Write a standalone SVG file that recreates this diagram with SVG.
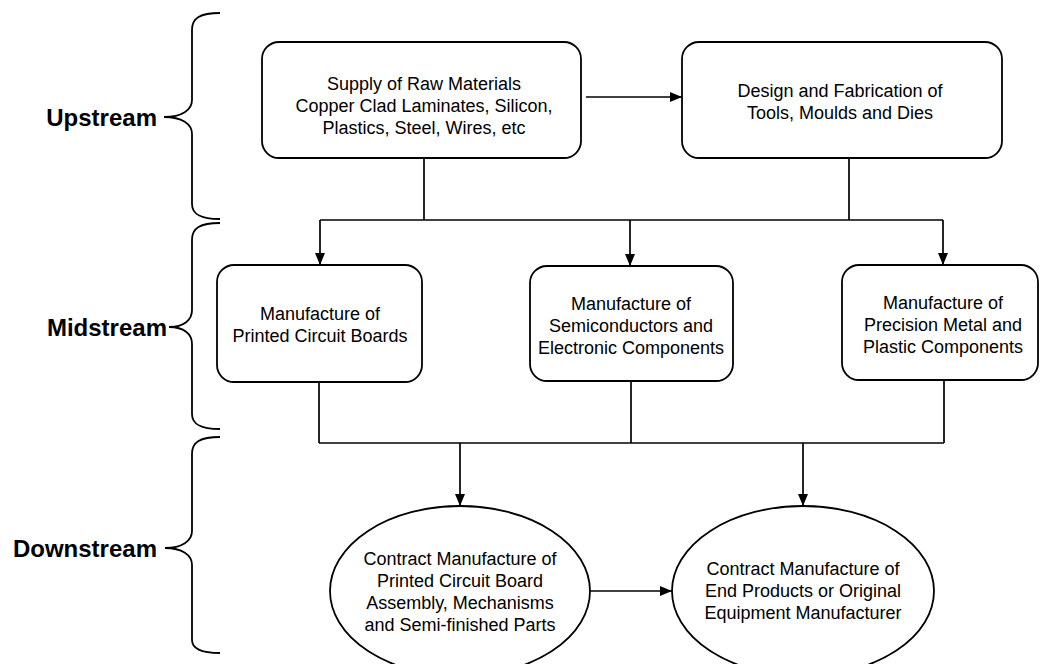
<svg xmlns="http://www.w3.org/2000/svg" width="1040" height="664" viewBox="0 0 1040 664">
<defs>
<marker id="ah" viewBox="0 0 12 10" refX="12" refY="5" markerWidth="12" markerHeight="10" markerUnits="userSpaceOnUse" orient="auto">
<path d="M0,0 L12,5 L0,10 Z" fill="#000"/>
</marker>
<style>
.box{fill:#fff;stroke:#000;stroke-width:1.8}
.t{font-family:"Liberation Sans",Arial,sans-serif;font-size:18px;fill:#000;text-anchor:middle}
.lab{font-family:"Liberation Sans",Arial,sans-serif;font-size:24px;font-weight:bold;fill:#000;text-anchor:end}
.br{fill:none;stroke:#000;stroke-width:1.8}
.c{fill:none;stroke:#000;stroke-width:1.7}
.a{fill:none;stroke:#000;stroke-width:1.7;marker-end:url(#ah)}
</style>
</defs>
<rect width="1040" height="664" fill="#fff"/>

<g id="brackets">
<path class="br" d="M220,13 C200,13 192,18 192,30 L192,100 C192,110 182,117 164,117 C182,117 192,124 192,134 L192,204 C192,214 200,219 220,219"/>
<path class="br" d="M220,223 C200,223 192,228 192,240 L192,310 C192,320 184,327 169,327 C184,327 192,334 192,344 L192,414 C192,424 200,429 220,429"/>
<path class="br" d="M220,437 C200,437 192,442 192,454 L192,531 C192,541 182,548 165,548 C182,548 192,555 192,565 L192,640 C192,648 200,653 220,653"/>
</g>

<g id="labels">
<text class="lab" x="157" y="126">Upstream</text>
<text class="lab" x="167" y="336">Midstream</text>
<text class="lab" x="157" y="557">Downstream</text>
</g>

<g id="connectors">
<line class="a" x1="586" y1="97" x2="682" y2="97"/>
<line class="c" x1="424" y1="158" x2="424" y2="220"/>
<line class="c" x1="849" y1="158" x2="849" y2="220"/>
<line class="c" x1="320" y1="220" x2="943" y2="220"/>
<line class="a" x1="320" y1="220" x2="320" y2="265"/>
<line class="a" x1="630" y1="220" x2="630" y2="266"/>
<line class="a" x1="943" y1="220" x2="943" y2="265"/>
<line class="c" x1="319" y1="382" x2="319" y2="443"/>
<line class="c" x1="631" y1="381" x2="631" y2="443"/>
<line class="c" x1="944" y1="380" x2="944" y2="443"/>
<line class="c" x1="319" y1="443" x2="944" y2="443"/>
<line class="a" x1="460" y1="443" x2="460" y2="506"/>
<line class="a" x1="803" y1="443" x2="803" y2="506"/>
<line class="a" x1="590" y1="591" x2="672" y2="591"/>
</g>

<g id="supply">
<rect class="box" x="262" y="42" width="319" height="116" rx="17"/>
<text class="t" x="424" y="89.5">Supply of Raw Materials</text>
<text class="t" x="424" y="111.5">Copper Clad Laminates, Silicon,</text>
<text class="t" x="424" y="133.5">Plastics, Steel, Wires, etc</text>
</g>

<g id="design">
<rect class="box" x="682" y="42" width="320" height="116" rx="17"/>
<text class="t" x="840" y="96.5">Design and Fabrication of</text>
<text class="t" x="840" y="118.5">Tools, Moulds and Dies</text>
</g>

<g id="pcb">
<rect class="box" x="217" y="265" width="205" height="117" rx="17"/>
<text class="t" x="320" y="319.5">Manufacture of</text>
<text class="t" x="320" y="342">Printed Circuit Boards</text>
</g>

<g id="semi">
<rect class="box" x="530" y="266" width="203" height="115" rx="17"/>
<text class="t" x="631" y="309.5">Manufacture of</text>
<text class="t" x="631" y="331.5">Semiconductors and</text>
<text class="t" x="631" y="353.5">Electronic Components</text>
</g>

<g id="precision">
<rect class="box" x="842" y="265" width="196" height="115" rx="17"/>
<text class="t" x="943" y="308.5">Manufacture of</text>
<text class="t" x="943" y="330.5">Precision Metal and</text>
<text class="t" x="943" y="352.5">Plastic Components</text>
</g>

<g id="pcba">
<ellipse class="box" cx="460" cy="591" rx="130" ry="85"/>
<text class="t" x="460" y="564.5">Contract Manufacture of</text>
<text class="t" x="460" y="586.5">Printed Circuit Board</text>
<text class="t" x="460" y="608.5">Assembly, Mechanisms</text>
<text class="t" x="460" y="630.5">and Semi-finished Parts</text>
</g>

<g id="oem">
<ellipse class="box" cx="803" cy="591" rx="131" ry="85"/>
<text class="t" x="803" y="574.5">Contract Manufacture of</text>
<text class="t" x="803" y="596.5">End Products or Original</text>
<text class="t" x="803" y="618.5">Equipment Manufacturer</text>
</g>
</svg>
